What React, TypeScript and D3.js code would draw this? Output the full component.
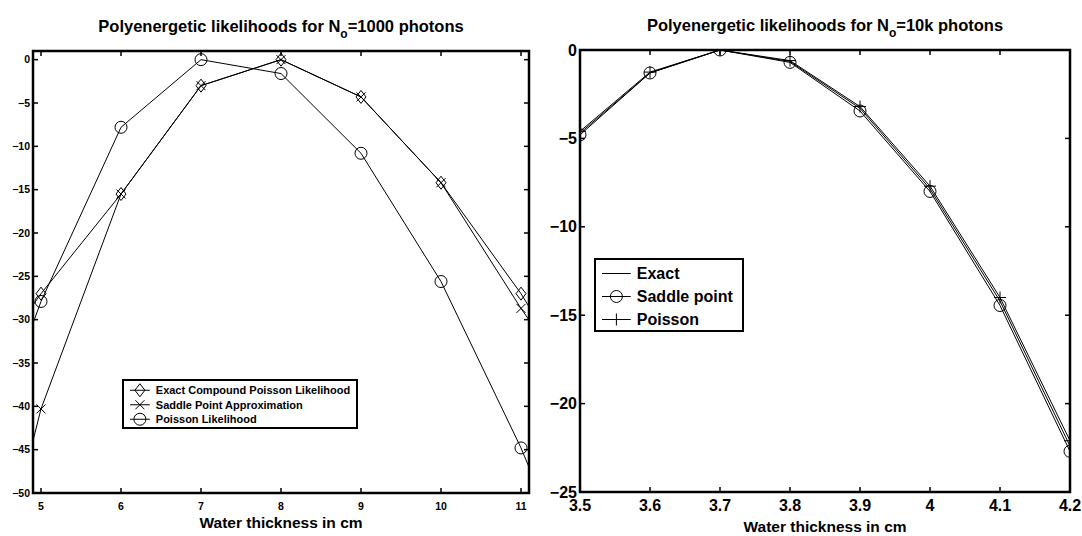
import React from "react";
import * as d3 from "d3";

// left panel: N0 = 1000 photons (points at 4 and 12 only feed the clipped line ends)
const leftX = [4, 5, 6, 7, 8, 9, 10, 11, 12];
const leftExact = [-40, -27, -15.5, -3, 0, -4.3, -14.2, -27, -42];
const leftSaddle = [-77, -40.3, -15.5, -3, 0, -4.3, -14.2, -28.7, -42];
const leftPoisson = [-53, -27.9, -7.8, 0, -1.6, -10.8, -25.6, -44.8, -67];
const leftXTicks = [5, 6, 7, 8, 9, 10, 11];
const leftYTicks = [0, -5, -10, -15, -20, -25, -30, -35, -40, -45, -50];
const leftLegend = ["Exact Compound Poisson Likelihood", "Saddle Point Approximation", "Poisson Likelihood"];

// right panel: N0 = 10k photons
const rightX = [3.5, 3.6, 3.7, 3.8, 3.9, 4.0, 4.1, 4.2];
const rightExact = [-4.7, -1.3, 0, -0.65, -3.3, -7.85, -14.2, -22.4];
const rightSaddle = [-4.8, -1.3, 0, -0.7, -3.45, -8.0, -14.45, -22.7];
const rightPoisson = [-4.6, -1.25, 0, -0.6, -3.2, -7.7, -14.0, -22.1];
const rightXTicks = [3.5, 3.6, 3.7, 3.8, 3.9, 4.0, 4.1, 4.2];
const rightYTicks = [0, -5, -10, -15, -20, -25];
const rightLegend = ["Exact", "Saddle point", "Poisson"];

const FONT = "'Liberation Sans', Arial, Helvetica, sans-serif";

type Marker = "diamond" | "x" | "circle" | "plus" | "none";

function MarkerShape({ kind, x, y }: { kind: Marker; x: number; y: number }) {
  const s = { fill: "none", stroke: "#000", strokeWidth: 1 };
  if (kind === "diamond")
    return <path d={`M${x},${y - 6.5}L${x + 5},${y}L${x},${y + 6.5}L${x - 5},${y}Z`} {...s} />;
  if (kind === "circle") return <circle cx={x} cy={y} r={6} {...s} />;
  if (kind === "x")
    return <path d={`M${x - 4.5},${y - 4.5}L${x + 4.5},${y + 4.5}M${x - 4.5},${y + 4.5}L${x + 4.5},${y - 4.5}`} {...s} />;
  if (kind === "plus")
    return <path d={`M${x - 6},${y}L${x + 6},${y}M${x},${y - 6}L${x},${y + 6}`} {...s} />;
  return null;
}

const fmt = (v: number) => (v < 0 ? "\u2212" + Math.abs(v) : String(v));

function Panel(props: {
  id: string;
  left: number; right: number; top: number; bottom: number;
  xDomain: [number, number]; yDomain: [number, number];
  xTicks: number[]; yTicks: number[];
  xs: number[]; series: { ys: number[]; marker: Marker }[];
  tickFont: number; xLabelY: number; xTitleY: number; titleY: number;
  titleMain: string; titleTail: string;
  legend: string[]; legendBox: [number, number, number, number]; legendFont: number; legendStep: number;
}) {
  const p = props;
  const x = d3.scaleLinear().domain(p.xDomain).range([p.left, p.right]);
  const y = d3.scaleLinear().domain(p.yDomain).range([p.bottom, p.top]);
  const line = d3.line<number>().x((_, i) => x(p.xs[i])).y((d) => y(d));
  const cx = (p.left + p.right) / 2;
  const [lx, ly, lw, lh] = p.legendBox;
  const tk = 5;
  return (
    <g>
      <defs>
        <clipPath id={p.id}>
          <rect x={p.left} y={p.top} width={p.right - p.left} height={p.bottom - p.top} />
        </clipPath>
      </defs>
      <g clipPath={`url(#${p.id})`}>
        {p.series.map((s, k) => (
          <g key={k}>
            <path d={line(s.ys) || ""} fill="none" stroke="#000" strokeWidth={1} />
            {s.ys.map((v, i) =>
              p.xs[i] >= p.xDomain[0] && p.xs[i] <= p.xDomain[1] ? (
                <MarkerShape key={i} kind={s.marker} x={x(p.xs[i])} y={y(v)} />
              ) : null
            )}
          </g>
        ))}
      </g>
      {/* ticks on all four sides */}
      {p.xTicks.map((t) => (
        <g key={"x" + t}>
          <line x1={x(t)} x2={x(t)} y1={p.bottom} y2={p.bottom - tk} stroke="#000" strokeWidth={1.5} />
          <line x1={x(t)} x2={x(t)} y1={p.top} y2={p.top + tk} stroke="#000" strokeWidth={1.5} />
          <text x={x(t)} y={p.xLabelY} textAnchor="middle" fontSize={p.tickFont} fontWeight="bold" fontFamily={FONT}>
            {fmt(t)}
          </text>
        </g>
      ))}
      {p.yTicks.map((t) => (
        <g key={"y" + t}>
          <line x1={p.left} x2={p.left + tk} y1={y(t)} y2={y(t)} stroke="#000" strokeWidth={1.5} />
          <line x1={p.right} x2={p.right - tk} y1={y(t)} y2={y(t)} stroke="#000" strokeWidth={1.5} />
          <text x={p.left - 3} y={y(t)} dy="0.35em" textAnchor="end" fontSize={p.tickFont} fontWeight="bold" fontFamily={FONT}>
            {fmt(t)}
          </text>
        </g>
      ))}
      <rect x={p.left} y={p.top} width={p.right - p.left} height={p.bottom - p.top} fill="none" stroke="#000" strokeWidth={2.5} />
      <text x={cx} y={p.xTitleY} textAnchor="middle" fontSize={15.5} fontWeight="bold" fontFamily={FONT}>
        Water thickness in cm
      </text>
      <text x={cx} y={p.titleY} textAnchor="middle" fontSize={16.5} fontWeight="bold" fontFamily={FONT}>
        {p.titleMain}
        <tspan dy={6} fontSize={12}>o</tspan>
        <tspan dy={-6}>{p.titleTail}</tspan>
      </text>
      {/* legend */}
      <rect x={lx} y={ly} width={lw} height={lh} fill="#fff" stroke="#000" strokeWidth={2} />
      {p.legend.map((name, i) => {
        const yy = ly + p.legendStep * (i + 0.5) + 3;
        const lineW = p.legendFont * 1.8;
        return (
          <g key={name}>
            <line x1={lx + 7} x2={lx + 7 + lineW} y1={yy} y2={yy} stroke="#000" strokeWidth={1} />
            <MarkerShape kind={p.series[i].marker} x={lx + 7 + lineW / 2} y={yy} />
            <text x={lx + 13 + lineW} y={yy} dy="0.35em" fontSize={p.legendFont} fontWeight="bold" fontFamily={FONT}>
              {name}
            </text>
          </g>
        );
      })}
    </g>
  );
}

export default function App() {
  return (
    <svg width={1082} height={536} style={{ position: "absolute", left: 0, top: 0, background: "#fff" }}>
      <Panel
        id="clipL"
        left={33} right={529} top={51} bottom={493}
        xDomain={[4.9, 11.1]} yDomain={[-50, 1]}
        xTicks={leftXTicks} yTicks={leftYTicks}
        xs={leftX}
        series={[
          { ys: leftExact, marker: "diamond" },
          { ys: leftSaddle, marker: "x" },
          { ys: leftPoisson, marker: "circle" },
        ]}
        tickFont={10.5} xLabelY={510} xTitleY={528} titleY={32}
        titleMain="Polyenergetic likelihoods for N" titleTail="=1000 photons"
        legend={leftLegend} legendBox={[123, 380, 234, 48]} legendFont={11} legendStep={14.5}
      />
      <Panel
        id="clipR"
        left={580} right={1070} top={50} bottom={492}
        xDomain={[3.5, 4.2]} yDomain={[-25, 0]}
        xTicks={rightXTicks} yTicks={rightYTicks}
        xs={rightX}
        series={[
          { ys: rightExact, marker: "none" },
          { ys: rightSaddle, marker: "circle" },
          { ys: rightPoisson, marker: "plus" },
        ]}
        tickFont={16} xLabelY={511} xTitleY={532} titleY={31}
        titleMain="Polyenergetic likelihoods for N" titleTail="=10k photons"
        legend={rightLegend} legendBox={[595, 259, 148, 72]} legendFont={16} legendStep={23}
      />
    </svg>
  );
}
